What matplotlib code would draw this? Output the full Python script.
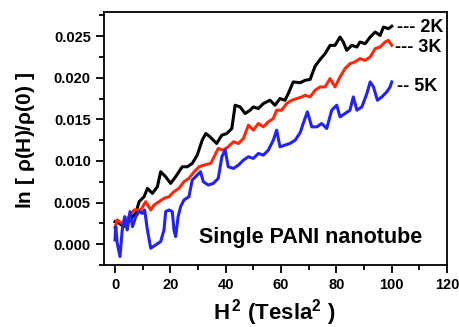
import matplotlib
matplotlib.use("Agg")
import matplotlib.pyplot as plt
from matplotlib.ticker import MultipleLocator, FormatStrFormatter

plt.rcParams['font.family'] = ['Liberation Sans', 'DejaVu Sans']
plt.rcParams['font.weight'] = 'bold'
plt.rcParams['mathtext.fontset'] = 'custom'
plt.rcParams['mathtext.rm'] = 'Liberation Sans'
plt.rcParams['mathtext.bf'] = 'Liberation Sans:bold'

x_2k = [0, 1.5, 3.2, 5, 7.5, 8.7, 10.5, 11.7, 13.5, 15.3, 16.5, 18.3, 20.1, 21.9, 24.3, 26.1, 27.9, 29.7,
        31.5, 32.8, 34.3, 36.7, 38.6, 40.4, 42.2, 43.4, 45.2, 47, 48.8, 50, 51.8, 53.6, 56, 57.8, 59.6,
        61.4, 62.6, 64.4, 66.9, 68.7, 70.5, 72.3, 74.1, 75.9, 77.7, 79.5, 81.3, 82.5, 83.7, 85.5, 87.4,
        88.5, 90.4, 92.2, 94, 95.8, 97, 98.8, 100]
y_2k = [0.0027, 0.0025, 0.0021, 0.0028, 0.0037, 0.0051, 0.0057, 0.0067, 0.0061, 0.0069, 0.0087, 0.0081,
        0.0073, 0.0081, 0.0093, 0.0093, 0.0097, 0.0107, 0.0125, 0.0133, 0.0129, 0.0121, 0.0131, 0.0133,
        0.0139, 0.0167, 0.0165, 0.0157, 0.0161, 0.0165, 0.0163, 0.0169, 0.0173, 0.0167, 0.0175, 0.0173,
        0.0181, 0.0195, 0.0194, 0.0197, 0.0198, 0.0214, 0.0222, 0.0229, 0.0239, 0.0239, 0.0249, 0.0243,
        0.0233, 0.0239, 0.0237, 0.0243, 0.0241, 0.0249, 0.0255, 0.0251, 0.0261, 0.0259, 0.0262]

x_3k = [0, 0.8, 2.5, 5, 6.9, 9.3, 11.1, 12.9, 14.1, 15.9, 17.7, 19.5, 21.3, 23.1, 24.9, 26.7, 28.6, 30.4,
        32.2, 34.6, 37.3, 39.1, 40.9, 42.8, 44.6, 46.4, 48.2, 50, 51.8, 53.6, 55.4, 57.2, 58.4, 60.2, 62,
        63.9, 65.7, 67.5, 68.7, 70.5, 72.3, 74.1, 75.9, 77.7, 79.5, 81.3, 83.1, 84.9, 86.7, 88.5, 90.4,
        92.2, 94, 95.8, 97.6, 98.8, 100]
y_3k = [0.0020, 0.0029, 0.0025, 0.0033, 0.0041, 0.0041, 0.0051, 0.0041, 0.0047, 0.0051, 0.0055, 0.0057,
        0.0063, 0.0067, 0.0075, 0.0079, 0.0087, 0.0093, 0.0095, 0.0097, 0.0115, 0.0113, 0.0117, 0.0123,
        0.0121, 0.0127, 0.0143, 0.0137, 0.0145, 0.0141, 0.0147, 0.0151, 0.0161, 0.0161, 0.0169, 0.0173,
        0.0175, 0.0177, 0.0179, 0.0177, 0.0185, 0.0189, 0.0189, 0.0199, 0.0189, 0.0201, 0.0211, 0.0217,
        0.0219, 0.0223, 0.0221, 0.0225, 0.0235, 0.0237, 0.0243, 0.0245, 0.0239]

x_5k = [0, 0.25, 0.8, 1.8, 2.6, 3.5, 4.4, 5.4, 6.3, 7.5, 8.7, 9.9, 10.7, 11.7, 12.9, 14.7, 16.5, 17.7,
        18.3, 19.5, 20.7, 21.3, 21.9, 22.8, 23.7, 24.9, 26.7, 27.9, 29.1, 30.9, 31.9, 33.7, 35.5, 37.3,
        38.6, 39.8, 40.9, 42.8, 44.6, 46.4, 48.2, 50, 51.8, 53.6, 55.4, 57.2, 58.4, 59.6, 61.4, 63.2,
        65.1, 66.9, 68.0, 69.5, 71.1, 72.9, 74.7, 76.5, 78.3, 80.1, 81.3, 83.1, 84.9, 86.1, 87.4, 89.2,
        91, 92.2, 93.4, 94.8, 96.4, 98.2, 99.4, 100]
y_5k = [0.0005, 0.0021, 0.0001, -0.0015, 0.0017, 0.0033, 0.0017, 0.0039, 0.0021, 0.0033, 0.0039, 0.0037,
        0.0041, 0.0017, -0.0005, -0.0001, 0.0003, 0.0017, 0.0039, 0.0041, 0.0039, 0.0017, 0.0009, 0.0033,
        0.0045, 0.0053, 0.0057, 0.0077, 0.0081, 0.0087, 0.0075, 0.0071, 0.0073, 0.0079, 0.0105, 0.0113,
        0.0093, 0.0091, 0.0095, 0.0101, 0.0105, 0.0103, 0.0109, 0.0107, 0.0113, 0.0125, 0.0137, 0.0117,
        0.0119, 0.0121, 0.0125, 0.0134, 0.0145, 0.0159, 0.0141, 0.0141, 0.0145, 0.0139, 0.0161, 0.0167,
        0.0153, 0.0157, 0.0161, 0.0177, 0.0161, 0.0165, 0.0181, 0.0195, 0.0189, 0.0173, 0.0177, 0.0183,
        0.0189, 0.0195]

series_labels = ["--- 2K", "--- 3K", "-- 5K"]
label_x = [102.0, 101.3, 102.0]
label_y = [0.0261, 0.0236, 0.0190]
colors = ["black", "#ff2a0a", "#2323f5"]

fig = plt.figure(figsize=(4.6, 3.27), dpi=100)
ax = fig.add_axes([0.226, 0.190, 0.746, 0.773])

for xs, ys, c in [(x_2k, y_2k, colors[0]), (x_3k, y_3k, colors[1]), (x_5k, y_5k, colors[2])]:
    ax.plot(xs, ys, color=c, lw=2.2, solid_joinstyle='round')

for lab, xx, yy in zip(series_labels, label_x, label_y):
    ax.text(xx, yy, lab, fontsize=13, fontweight='bold', va='center', ha='left')

ax.text(70.8, 0.0001, "Single PANI nanotube", fontsize=15.5, fontweight='bold',
        ha='center', va='baseline')

ax.set_xlim(-4, 120)
ax.set_ylim(-0.0025, 0.0279)
ax.xaxis.set_major_locator(MultipleLocator(20))
ax.xaxis.set_minor_locator(MultipleLocator(10))
ax.yaxis.set_major_locator(MultipleLocator(0.005))
ax.yaxis.set_minor_locator(MultipleLocator(0.0025))
ax.yaxis.set_major_formatter(FormatStrFormatter('%.3f'))
ax.tick_params(which='major', direction='out', length=6, width=1.3, labelsize=10.5)
ax.tick_params(which='minor', direction='out', length=3.5, width=1.3)
ax.tick_params(top=False, right=False)
for sp in ax.spines.values():
    sp.set_linewidth(1.3)
for lbl in ax.get_xticklabels() + ax.get_yticklabels():
    lbl.set_fontweight('bold')

fig.text(0.596, 0.022, r"H$^{\mathbf{\,2}}$ (Tesla$^{\mathbf{2}}$ )", fontsize=16, fontweight='bold',
         ha='center', va='baseline')
fig.text(0.055, 0.57, r"ln [ $\mathrm{\rho}$(H)/$\mathrm{\rho}$(0) ]", fontsize=15, fontweight='bold',
         ha='center', va='center', rotation=90)

fig.savefig("out.png", dpi=100)
